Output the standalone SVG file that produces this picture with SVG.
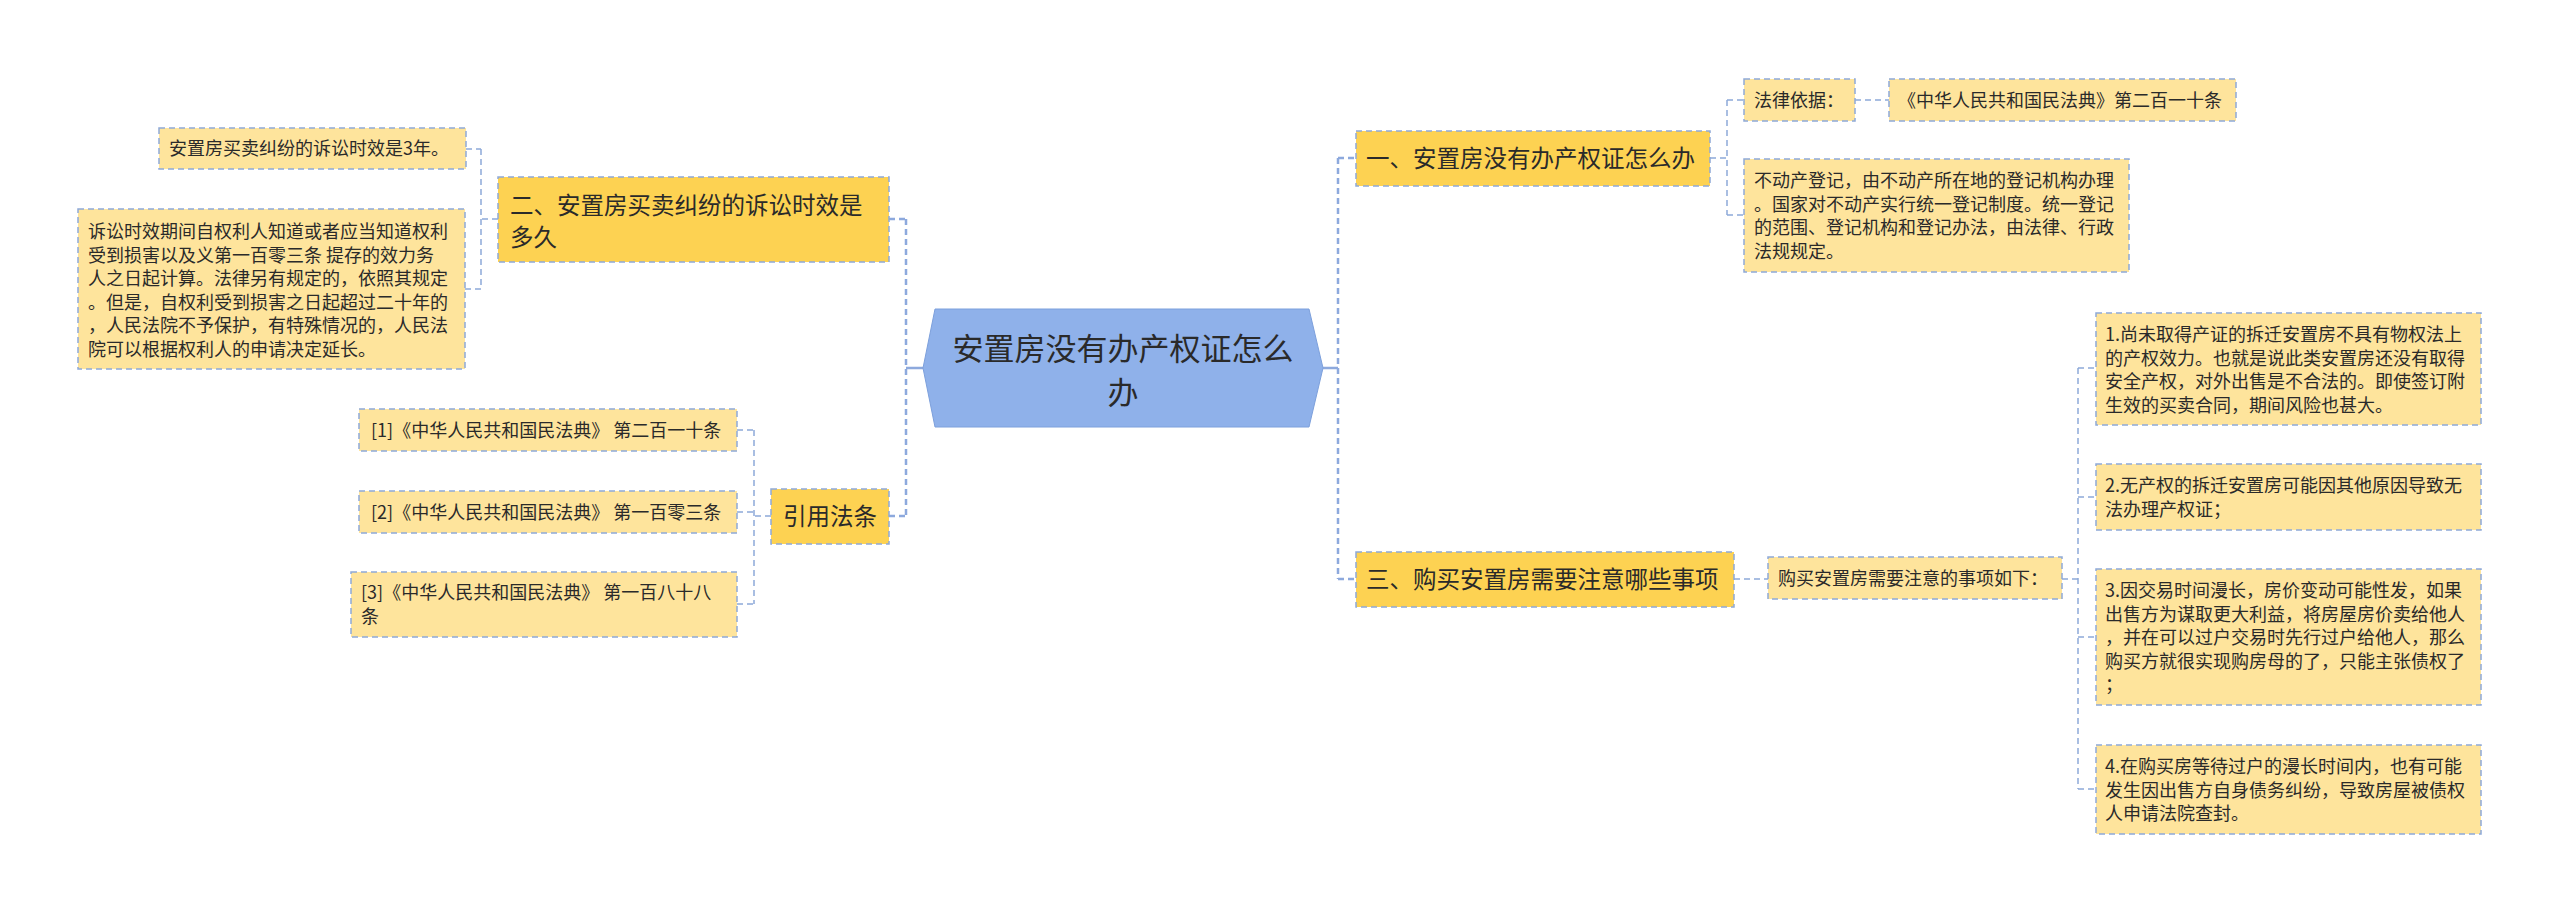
<svg xmlns="http://www.w3.org/2000/svg" width="2560" height="913" viewBox="0 0 2560 913">
<style>
text{font-family:"Noto Sans CJK SC","Noto Sans",sans-serif;fill:#2a2a2a}
.main{fill:#FDD252;stroke:#8FA9D8;stroke-width:1.5;stroke-dasharray:6 4}
.note{fill:#FEE49C;stroke:#8FA9D8;stroke-width:1.5;stroke-dasharray:6 4}
.t18{font-size:18px}
.t24{font-size:23.5px}
.thin{fill:none;stroke:#8DA9D9;stroke-width:1.5;stroke-dasharray:6 4}
.thick{fill:none;stroke:#8DA9DD;stroke-width:2.5;stroke-dasharray:6 4}
.solid{fill:none;stroke:#8DA9DD;stroke-width:2.5}
</style>
<rect width="2560" height="913" fill="#ffffff"/>
<g id="connectors">
<path class="thick" d="M889,219 H906 M906,219 V516 M889,516 H906"/>
<path class="solid" d="M906,368 H923 M1323,368 H1338"/>
<path class="thick" d="M1338,158 V579 M1338,158 H1356 M1338,579 H1356"/>
<path class="thin" d="M498,219 H481 M481,149 V289 M466,149 H481 M465,289 H481"/>
<path class="thin" d="M771,516 H754 M754,430 V604 M737,430 H754 M737,512 H754 M737,604 H754"/>
<path class="thin" d="M1710,158 H1727 M1727,100 V215 M1727,100 H1744 M1727,215 H1744"/>
<path class="thin" d="M1855,100 H1889"/>
<path class="thin" d="M1734,579 H1768"/>
<path class="thin" d="M2062,579 H2078 M2078,368 V789 M2078,368 H2096 M2078,497 H2096 M2078,637 H2096 M2078,789 H2096"/>
</g>
<g id="center">
<polygon points="935,309 1309,309 1323,368 1309,427 935,427 923,368" fill="#8FB1EA" stroke="#7DA0DC" stroke-width="1"/>
<text x="1123" y="360" font-size="31" text-anchor="middle">安置房没有办产权证怎么</text>
<text x="1123" y="404" font-size="31" text-anchor="middle">办</text>
</g>
<g id="n2">
<rect class="main" x="498" y="177" width="391" height="85"/>
<text class="t24" x="510" y="214">二、安置房买卖纠纷的诉讼时效是</text>
<text class="t24" x="510" y="246">多久</text>
</g>
<g id="n2a">
<rect class="note" x="159" y="128" width="307" height="41"/>
<text class="t18" x="169" y="155">安置房买卖纠纷的诉讼时效是3年。</text>
</g>
<g id="n2b">
<rect class="note" x="78" y="209" width="387" height="160"/>
<text class="t18" x="88" y="238">诉讼时效期间自权利人知道或者应当知道权利</text>
<text class="t18" x="88" y="261.5">受到损害以及义第一百零三条 提存的效力务</text>
<text class="t18" x="88" y="285">人之日起计算。法律另有规定的，依照其规定</text>
<text class="t18" x="88" y="308.5">。但是，自权利受到损害之日起超过二十年的</text>
<text class="t18" x="88" y="332">，人民法院不予保护，有特殊情况的，人民法</text>
<text class="t18" x="88" y="355.5">院可以根据权利人的申请决定延长。</text>
</g>
<g id="nref">
<rect class="main" x="771" y="489" width="118" height="55"/>
<text class="t24" x="830" y="525" text-anchor="middle">引用法条</text>
</g>
<g id="nref1">
<rect class="note" x="359" y="409" width="378" height="42"/>
<text class="t18" x="371" y="437">[1]《中华人民共和国民法典》 第二百一十条</text>
</g>
<g id="nref2">
<rect class="note" x="359" y="491" width="378" height="42"/>
<text class="t18" x="371" y="519">[2]《中华人民共和国民法典》 第一百零三条</text>
</g>
<g id="nref3">
<rect class="note" x="351" y="572" width="386" height="65"/>
<text class="t18" x="361" y="599">[3]《中华人民共和国民法典》 第一百八十八</text>
<text class="t18" x="361" y="622.5">条</text>
</g>
<g id="n1">
<rect class="main" x="1356" y="131" width="354" height="55"/>
<text class="t24" x="1366" y="167">一、安置房没有办产权证怎么办</text>
</g>
<g id="n1a">
<rect class="note" x="1744" y="79" width="111" height="42"/>
<text class="t18" x="1754" y="107">法律依据：</text>
</g>
<g id="n1a1">
<rect class="note" x="1889" y="79" width="347" height="42"/>
<text class="t18" x="1898" y="107">《中华人民共和国民法典》第二百一十条</text>
</g>
<g id="n1b">
<rect class="note" x="1744" y="159" width="385" height="113"/>
<text class="t18" x="1754" y="187">不动产登记，由不动产所在地的登记机构办理</text>
<text class="t18" x="1754" y="210.5">。国家对不动产实行统一登记制度。统一登记</text>
<text class="t18" x="1754" y="234">的范围、登记机构和登记办法，由法律、行政</text>
<text class="t18" x="1754" y="257.5">法规规定。</text>
</g>
<g id="n3">
<rect class="main" x="1356" y="552" width="378" height="55"/>
<text class="t24" x="1366" y="588">三、购买安置房需要注意哪些事项</text>
</g>
<g id="n3a">
<rect class="note" x="1768" y="557" width="294" height="42"/>
<text class="t18" x="1778" y="585">购买安置房需要注意的事项如下：</text>
</g>
<g id="n3a1">
<rect class="note" x="2096" y="313" width="385" height="112"/>
<text class="t18" x="2105" y="341">1.尚未取得产证的拆迁安置房不具有物权法上</text>
<text class="t18" x="2105" y="364.5">的产权效力。也就是说此类安置房还没有取得</text>
<text class="t18" x="2105" y="388">安全产权，对外出售是不合法的。即使签订附</text>
<text class="t18" x="2105" y="411.5">生效的买卖合同，期间风险也甚大。</text>
</g>
<g id="n3a2">
<rect class="note" x="2096" y="464" width="385" height="66"/>
<text class="t18" x="2105" y="492">2.无产权的拆迁安置房可能因其他原因导致无</text>
<text class="t18" x="2105" y="515.5">法办理产权证；</text>
</g>
<g id="n3a3">
<rect class="note" x="2096" y="569" width="385" height="136"/>
<text class="t18" x="2105" y="597">3.因交易时间漫长，房价变动可能性发，如果</text>
<text class="t18" x="2105" y="620.5">出售方为谋取更大利益，将房屋房价卖给他人</text>
<text class="t18" x="2105" y="644">，并在可以过户交易时先行过户给他人，那么</text>
<text class="t18" x="2105" y="667.5">购买方就很实现购房母的了，只能主张债权了</text>
<text class="t18" x="2105" y="691">；</text>
</g>
<g id="n3a4">
<rect class="note" x="2096" y="745" width="385" height="89"/>
<text class="t18" x="2105" y="773">4.在购买房等待过户的漫长时间内，也有可能</text>
<text class="t18" x="2105" y="796.5">发生因出售方自身债务纠纷，导致房屋被债权</text>
<text class="t18" x="2105" y="820">人申请法院查封。</text>
</g>
</svg>
